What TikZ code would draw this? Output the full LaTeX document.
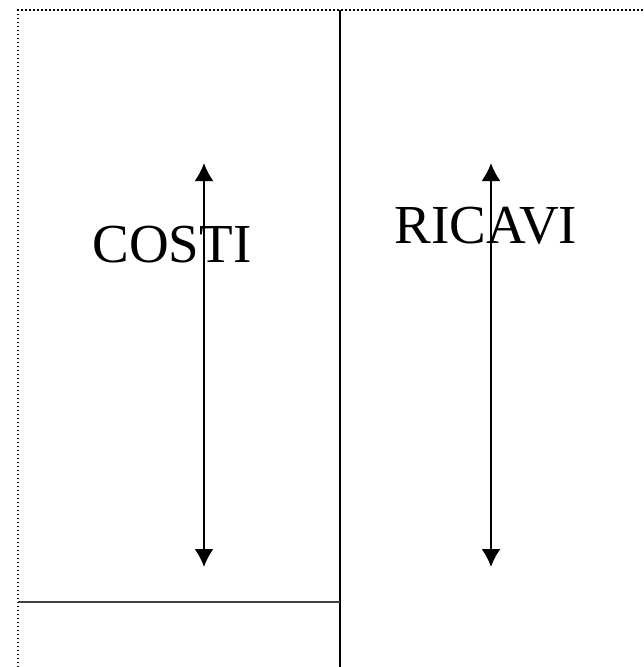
\documentclass[tikz,border=0pt]{standalone}
\usepackage{fontspec}
\setmainfont{Liberation Serif}
\usetikzlibrary{arrows.meta}

\begin{document}
\begin{tikzpicture}[
  x=1pt, y=-1pt,
  every node/.style={inner sep=0pt,anchor=base,font=\fontsize{55}{60}\selectfont},
  frame/.style={line width=1.5pt,dash pattern=on 1.5pt off 2.5pt},
  divide/.style={line width=1.3pt},
  flow/.style={line width=2pt,{Latex[length=18pt,width=19pt]}-{Latex[length=18pt,width=19pt]}}
]
\useasboundingbox (0,0) rectangle (643,667);
\draw[frame] (18,667) -- (18,10) -- (643,10);
\draw[divide] (340,10) -- (340,667);
\draw[divide,black!75] (18,602) -- (340,602);

\node (costi) at (172,262) {COSTI};
\node (ricavi) at (486,243) {RICAVI};

\coordinate (ctop) at (204,163);
\coordinate (cbot) at (204,567);
\coordinate (rtop) at (491,163);
\coordinate (rbot) at (491,567);
\draw[flow] (ctop) -- (cbot);
\draw[flow] (rtop) -- (rbot);
\end{tikzpicture}
\end{document}
